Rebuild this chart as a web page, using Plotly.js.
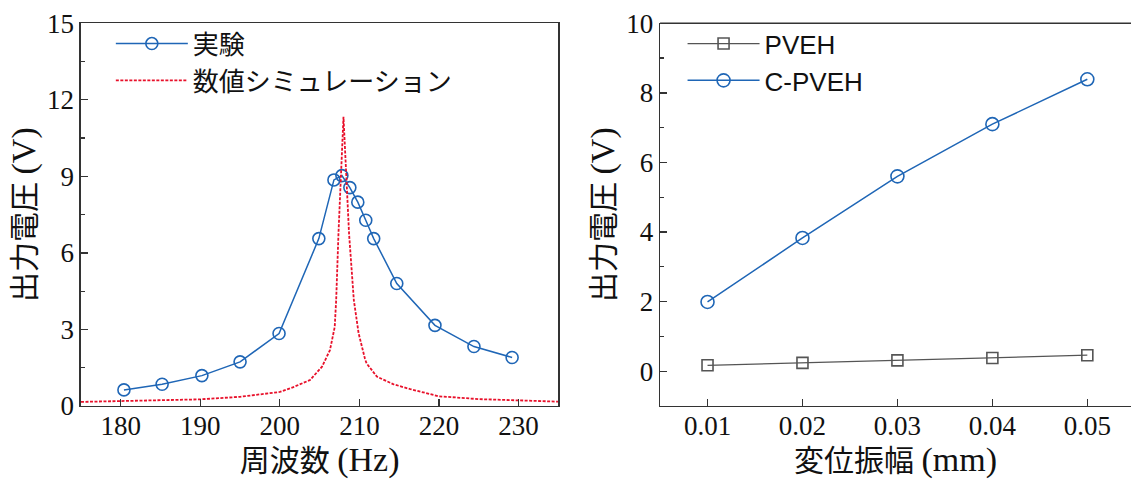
<!DOCTYPE html>
<html><head><meta charset="utf-8">
<script src="https://cdn.plot.ly/plotly-3.0.1.min.js"></script>
<style>html,body{margin:0;padding:0;background:#fff}#plot{width:1131px;height:480px}</style>
</head><body><div id="plot"></div>
<script>
// Left panel: frequency response
const expFreq = [180.4, 185.2, 190.2, 195.0, 199.9, 204.9, 206.8, 207.8, 208.8, 209.8, 210.8, 211.8, 214.7, 219.5, 224.4, 229.2];
const expVolt = [0.63, 0.85, 1.19, 1.73, 2.84, 6.56, 8.86, 9.03, 8.56, 7.99, 7.28, 6.56, 4.80, 3.16, 2.33, 1.90];
const simFreq = [175, 180, 185, 190, 195, 200, 201.7, 203.8, 205.3, 205.9, 206.3, 206.9, 207.08, 207.37, 207.7, 208.0, 208.3, 208.7, 209.3, 209.9, 210.7, 210.9, 212.2, 214.3, 216.4, 220, 225, 230, 235];
const simVolt = [0.16, 0.19, 0.22, 0.26, 0.36, 0.55, 0.74, 1.02, 1.54, 1.93, 2.19, 3.1, 4.15, 6.76, 9.37, 11.33, 9.37, 6.76, 4.15, 2.85, 1.85, 1.67, 1.15, 0.85, 0.66, 0.38, 0.27, 0.21, 0.17];
// Right panel: displacement amplitude
const amp = [0.01, 0.02, 0.03, 0.04, 0.05];
const pveh = [0.17, 0.24, 0.31, 0.38, 0.46];
const cpveh = [1.99, 3.83, 5.60, 7.10, 8.39];
const ampTicks = ['0.01', '0.02', '0.03', '0.04', '0.05'];

const blue = '#1f66b6', red = '#e8102a', grey = '#555555', axc = '#333333';
const serifCJK = '"Liberation Serif", "Noto Sans CJK JP", serif';
const sansCJK = '"Noto Sans CJK JP", "Liberation Sans", sans-serif';
const ser = s => '<span style="font-family:Liberation Serif;font-size:34px">' + s + '</span>';

const traces = [
  {x: expFreq, y: expVolt, name: '実験', mode: 'lines+markers', xaxis: 'x', yaxis: 'y', legend: 'legend',
   line: {color: blue, width: 1.5}, marker: {symbol: 'circle-open', size: 12, color: blue, line: {width: 1.6, color: blue}}},
  {x: simFreq, y: simVolt, name: '数値シミュレーション', mode: 'lines', xaxis: 'x', yaxis: 'y', legend: 'legend',
   line: {color: red, width: 1.8, dash: '3px,1.5px'}},
  {x: amp, y: pveh, name: 'PVEH', mode: 'lines+markers', xaxis: 'x2', yaxis: 'y2', legend: 'legend2',
   line: {color: grey, width: 1.3}, marker: {symbol: 'square-open', size: 11, color: grey, line: {width: 1.6, color: grey}}},
  {x: amp, y: cpveh, name: 'C-PVEH', mode: 'lines+markers', xaxis: 'x2', yaxis: 'y2', legend: 'legend2',
   line: {color: blue, width: 1.5}, marker: {symbol: 'circle-open', size: 13, color: blue, line: {width: 1.6, color: blue}}}
];

function ax(extra) {
  return Object.assign({
    showline: true, linecolor: axc, linewidth: 1.5, ticks: 'inside', ticklen: 7, tickwidth: 1.3, tickcolor: axc,
    showgrid: false, zeroline: false, automargin: false,
    tickfont: {family: '"Liberation Serif", serif', size: 27, color: '#111'}
  }, extra);
}
function ttl(cjk, lat, standoff) {
  return {text: cjk + ' ' + ser(lat), font: {family: serifCJK, size: 30, color: '#111'}, standoff: standoff};
}

const layout = {
  width: 1131, height: 480, margin: {l: 0, r: 0, t: 0, b: 0}, paper_bgcolor: '#fff', plot_bgcolor: '#fff', showlegend: true,
  font: {family: '"Liberation Serif", serif', size: 27, color: '#111'},
  xaxis: ax({domain: [0.0716, 0.4936], range: [175, 235], dtick: 10, mirror: true, anchor: 'y', ticklabelstandoff: -5,
    title: ttl('周波数', '(Hz)', 2)}),
  yaxis: ax({domain: [0.1542, 0.9515], range: [0, 15], dtick: 3, mirror: true, anchor: 'x',
    minor: {dtick: 1.5, ticks: 'inside', ticklen: 4, tickcolor: axc, tickwidth: 1.3},
    title: ttl('出力電圧', '(V)', 2)}),
  xaxis2: ax({domain: [0.5836, 1], range: [0.005, 0.0546], tickvals: amp, ticktext: ampTicks, mirror: false, anchor: 'y2', ticklabelstandoff: -5,
    title: ttl('変位振幅', '(mm)', 2)}),
  yaxis2: ax({domain: [0.1542, 0.9515], range: [-1, 10], tick0: 0, dtick: 2, mirror: false, anchor: 'x2',
    minor: {dtick: 1, ticks: 'inside', ticklen: 4, tickcolor: axc, tickwidth: 1.3},
    title: ttl('出力電圧', '(V)', 2)}),
  legend: {x: 0.098, y: 0.958, xanchor: 'left', yanchor: 'top', bgcolor: 'rgba(0,0,0,0)', itemwidth: 72,
    font: {family: sansCJK, size: 26, color: '#111'}, traceorder: 'grouped', tracegroupgap: 3},
  legend2: {x: 0.6035, y: 0.958, xanchor: 'left', yanchor: 'top', bgcolor: 'rgba(0,0,0,0)', itemwidth: 72,
    font: {family: '"Liberation Sans", Arial, sans-serif', size: 26, color: '#111'}, traceorder: 'grouped', tracegroupgap: 1},
  shapes: [{type: 'line', xref: 'x2 domain', yref: 'y2 domain', x0: 0, x1: 1, y0: 1, y1: 1, line: {color: axc, width: 1.5}}]
};

Plotly.newPlot('plot', traces, layout, {staticPlot: true});
</script></body></html>
